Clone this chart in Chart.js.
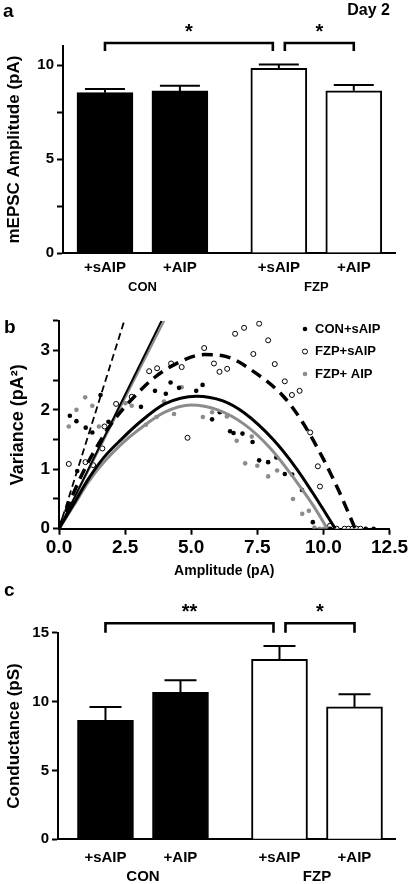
<!DOCTYPE html>
<html>
<head>
<meta charset="utf-8">
<script src="https://cdn.jsdelivr.net/npm/chart.js@4.4.1/dist/chart.umd.min.js"></script>
<style>
  body { margin: 0; background: #fff; }
  #wrap { position: relative; width: 410px; height: 884px; }
  .panel { position: absolute; left: 0; width: 410px; }
</style>
</head>
<body>
<div id="wrap">
  <div class="panel" style="top:0;height:300px"><canvas id="ampChart"></canvas></div>
  <div class="panel" style="top:300px;height:284px"><canvas id="varChart"></canvas></div>
  <div class="panel" style="top:584px;height:300px"><canvas id="condChart"></canvas></div>
</div>
<script>
var FONT = "Arial, 'Liberation Sans', Helvetica, sans-serif";
Chart.defaults.font.family = FONT;
Chart.defaults.color = '#000';

// bars (panels a and c)
var barLabels = ['+sAIP', '+AIP', '+sAIP', '+AIP'];
var barGroup = [0, 0, 1, 1];
var groupNames = ['CON', 'FZP'];
var barFill = ['#000', '#000', '#fff', '#fff'];

var ampMean = [8.53, 8.62, 9.82, 8.63];
var ampSem = [0.19, 0.28, 0.20, 0.31];
var ampTickMarks = [0, 2.5, 5, 7.5, 10];
var ampTickLabels = [0, 5, 10];

var condMean = [8.64, 10.67, 13.07, 9.61];
var condSem = [0.97, 0.88, 0.97, 0.92];
var condTickMarks = [0, 5, 10, 15];
var condTickLabels = [0, 5, 10, 15];

// significance brackets: [from bar, to bar, mark]
var ampSig = [[0, 2, '*'], [2, 3, '*']];
var condSig = [[0, 2, '**'], [2, 3, '*']];

// panel b: variance vs amplitude
var conX = [0.41, 0.66, 0.69, 1.01, 1.26, 1.57, 1.87, 3.10, 3.63, 4.04, 4.22, 4.54, 5.19, 5.43, 5.79, 6.08, 6.47, 6.60, 6.94, 7.32, 7.57, 7.91, 8.22, 8.54, 8.82, 9.19, 9.60, 10.25, 11.6, 11.9];
var conY = [1.90, 1.81, 0.97, 1.70, 1.62, 2.25, 1.80, 2.05, 2.32, 2.27, 2.46, 2.37, 2.32, 2.42, 1.84, 1.96, 1.64, 1.61, 1.60, 1.46, 1.15, 1.12, 1.20, 0.92, 0.91, 0.65, 0.11, 0, 0, 0];

var fzpX = [0.37, 1.00, 1.29, 1.64, 1.72, 2.16, 2.75, 3.41, 3.71, 4.24, 4.64, 4.86, 5.49, 5.86, 6.07, 6.36, 6.66, 7.00, 7.35, 7.57, 7.91, 8.16, 8.54, 8.81, 9.10, 9.50, 9.79, 9.87, 10.25, 10.5, 10.8, 10.95, 11.1, 11.25, 11.4];
var fzpY = [1.09, 1.12, 1.07, 1.35, 1.72, 2.10, 2.22, 2.65, 2.70, 2.78, 2.72, 1.53, 3.04, 2.78, 2.64, 2.69, 3.28, 3.38, 2.94, 3.45, 3.17, 2.77, 2.48, 2.25, 2.32, 1.62, 1.05, 0.71, 0.05, 0, 0, 0, 0, 0, 0];

var aipX = [0.37, 0.66, 0.99, 1.26, 1.51, 2.51, 2.75, 3.29, 3.69, 3.97, 4.35, 4.64, 5.44, 5.79, 6.35, 6.72, 7.04, 7.29, 7.50, 7.91, 8.25, 8.85, 9.20, 9.45, 9.66, 9.85, 10.0];
var aipY = [1.72, 2.00, 2.21, 2.07, 1.72, 2.11, 2.07, 1.75, 1.88, 2.14, 1.93, 2.38, 1.88, 1.96, 1.89, 1.48, 1.10, 1.55, 1.06, 0.88, 0.98, 0.50, 0.25, 0.30, 0.02, 0, 0];

// fitted curves
var conFitX = [0, 0.6, 1.1, 1.7, 2.35, 3.0, 4.0, 5.2, 6.2, 7.0, 8.1, 9.0, 9.6, 10.45];
var conFitY = [0, 0.45, 0.83, 1.20, 1.50, 1.77, 2.10, 2.23, 2.15, 1.95, 1.50, 1.00, 0.60, 0];
var aipFitX = [0, 0.6, 1.1, 1.7, 2.35, 3.0, 4.0, 5.0, 6.0, 7.0, 8.0, 9.0, 9.6, 10.15];
var aipFitY = [0, 0.42, 0.78, 1.12, 1.42, 1.66, 1.96, 2.08, 2.00, 1.76, 1.35, 0.78, 0.40, 0];
var fzpFitX = [0, 0.5, 1.0, 1.5, 2.0, 2.8, 3.6, 4.4, 5.5, 6.3, 7.5, 8.5, 9.2, 10.0, 10.6, 11.2];
var fzpFitY = [0, 0.55, 1.03, 1.43, 1.78, 2.20, 2.54, 2.77, 2.93, 2.90, 2.60, 2.22, 1.80, 1.17, 0.62, 0];
// initial slope lines
var conSlopeX = [0, 3.88], conSlopeY = [0, 3.5];
var aipSlopeX = [0, 3.98], aipSlopeY = [0, 3.5];
var fzpSlopeX = [0, 2.47], fzpSlopeY = [0, 3.5];

var GRAY = '#8c8c8c';
var groupGap = 0.32;

function pts(xs, ys) {
  return xs.map(function (x, i) { return { x: x, y: ys[i] }; });
}

function textPlugin(items) {
  return {
    id: 'panelText',
    afterDraw: function (chart) {
      var ctx = chart.ctx;
      ctx.save();
      ctx.fillStyle = '#000';
      ctx.textBaseline = 'middle';
      items.forEach(function (t) {
        ctx.font = t.font;
        ctx.textAlign = t.align || 'left';
        ctx.fillText(t.text, t.x, t.y);
      });
      ctx.restore();
    }
  };
}

function barPlugin(sems, sig, cfg) {
  return {
    id: 'barExtras',
    afterDatasetsDraw: function (chart) {
      var ctx = chart.ctx, y = chart.scales.y;
      var bars = chart.getDatasetMeta(0).data;
      var ds = chart.data.datasets[0];
      ctx.save();
      ctx.strokeStyle = '#000';
      ctx.fillStyle = '#000';
      // error bars (upper only)
      ctx.lineWidth = 2;
      bars.forEach(function (bar, i) {
        var top = y.getPixelForValue(ds.data[i].y + sems[i]);
        ctx.beginPath();
        ctx.moveTo(bar.x, bar.y);
        ctx.lineTo(bar.x, top);
        ctx.moveTo(bar.x - cfg.cap / 2, top);
        ctx.lineTo(bar.x + cfg.cap / 2, top);
        ctx.stroke();
      });
      // significance brackets
      var used = {};
      sig.forEach(function (s) { used[s[0]] = (used[s[0]] || 0) + 1; used[s[1]] = (used[s[1]] || 0) + 1; });
      var yl = y.getPixelForValue(cfg.sigLevel), yd = y.getPixelForValue(cfg.sigDrop);
      ctx.lineWidth = 2.6;
      sig.forEach(function (s) {
        var x1 = bars[s[0]].x + (used[s[0]] > 1 ? 6 : 0);
        var x2 = bars[s[1]].x - (used[s[1]] > 1 ? 6 : 0);
        ctx.beginPath();
        ctx.moveTo(x1, yd);
        ctx.lineTo(x1, yl);
        ctx.lineTo(x2, yl);
        ctx.lineTo(x2, yd);
        ctx.stroke();
        ctx.font = 'bold 20px ' + FONT;
        ctx.textAlign = 'center';
        ctx.textBaseline = 'alphabetic';
        ctx.fillText(s[2], (x1 + x2) / 2, yl - 5);
      });
      // group names under the category labels
      ctx.font = cfg.groupFont;
      ctx.textAlign = 'center';
      ctx.textBaseline = 'middle';
      groupNames.forEach(function (g, gi) {
        var xs = bars.filter(function (b, i) { return barGroup[i] === gi; }).map(function (b) { return b.x; });
        var cx = xs.reduce(function (a, b) { return a + b; }, 0) / xs.length;
        ctx.fillText(g, cx, cfg.groupY);
      });
      ctx.restore();
    }
  };
}

function barPanel(id, means, sems, sig, cfg) {
  var xPos = barLabels.map(function (l, i) { return i + barGroup[i] * groupGap; });
  return new Chart(id, {
    type: 'bar',
    data: {
      datasets: [{
        data: pts(xPos, means),
        backgroundColor: barFill,
        borderColor: '#000',
        borderWidth: 2,
        barThickness: 56
      }]
    },
    options: {
      responsive: true,
      maintainAspectRatio: false,
      animation: false,
      devicePixelRatio: 1,
      layout: { padding: { top: cfg.top, right: 15, left: 0, bottom: 0 } },
      plugins: { legend: { display: false }, tooltip: { enabled: false } },
      scales: {
        x: {
          type: 'linear',
          min: cfg.xMin,
          max: cfg.xMax,
          offset: false,
          afterBuildTicks: function (s) { s.ticks = xPos.map(function (v) { return { value: v }; }); },
          afterFit: function (s) { s.height = cfg.xHeight; },
          ticks: {
            autoSkip: false, maxRotation: 0, padding: cfg.labelPad, color: '#000',
            font: { size: 15, weight: 'bold' },
            callback: function (v, i) { return barLabels[i]; }
          },
          grid: { display: false, drawTicks: false, offset: false },
          border: { color: '#000', width: 2 }
        },
        y: {
          min: 0,
          max: cfg.yMax,
          afterBuildTicks: function (s) { s.ticks = cfg.tickMarks.map(function (v) { return { value: v }; }); },
          afterFit: function (s) { s.width = cfg.yWidth; },
          ticks: {
            autoSkip: false, padding: 3, color: '#000',
            font: { size: 15, weight: 'bold' },
            callback: function (v) { return cfg.tickLabels.indexOf(v) >= 0 ? String(v) : ''; }
          },
          grid: { drawOnChartArea: false, tickLength: 6, tickWidth: 2, tickColor: '#000' },
          border: { color: '#000', width: 2 },
          title: {
            display: true, text: cfg.yTitle, color: '#000',
            font: { size: 17, weight: 'bold' },
            padding: { top: cfg.titlePad, bottom: 0 }
          }
        }
      }
    },
    plugins: [barPlugin(sems, sig, cfg), textPlugin(cfg.texts)]
  });
}

barPanel('ampChart', ampMean, ampSem, ampSig, {
  top: 46.2, yMax: 11, xMin: -0.56, xMax: 3.87, xHeight: 47, labelPad: 6,
  yWidth: 63, titlePad: 4, cap: 40, sigLevel: 11.17, sigDrop: 10.74,
  tickMarks: ampTickMarks, tickLabels: ampTickLabels,
  yTitle: 'mEPSC Amplitude (pA)',
  groupFont: 'bold 13px ' + FONT, groupY: 287,
  texts: [
    { text: 'a', x: 3, y: 12, font: 'bold 19px ' + FONT },
    { text: 'Day 2', x: 390, y: 11, font: 'bold 16px ' + FONT, align: 'right' }
  ]
});

barPanel('condChart', condMean, condSem, condSig, {
  top: 48.7, yMax: 15, xMin: -0.633, xMax: 3.86, xHeight: 44.7, labelPad: 10,
  yWidth: 58, titlePad: 4, cap: 32, sigLevel: 15.69, sigDrop: 15.0,
  tickMarks: condTickMarks, tickLabels: condTickLabels,
  yTitle: 'Conductance (pS)',
  groupFont: 'bold 15px ' + FONT, groupY: 292.7,
  texts: [
    { text: 'c', x: 4, y: 7, font: 'bold 19px ' + FONT }
  ]
});

// panel b
var legendPlugin = {
  id: 'varLegend',
  afterDraw: function (chart) {
    var ctx = chart.ctx;
    var rows = chart.data.datasets.filter(function (d) { return d.inLegend; });
    ctx.save();
    ctx.font = 'bold 13px ' + FONT;
    ctx.textBaseline = 'middle';
    ctx.textAlign = 'left';
    rows.forEach(function (d, i) {
      var y = 29 + i * 22.5;
      ctx.beginPath();
      ctx.arc(305, y, d.pointRadius, 0, Math.PI * 2);
      ctx.fillStyle = d.pointBackgroundColor;
      ctx.fill();
      if (d.pointBorderWidth) {
        ctx.lineWidth = d.pointBorderWidth;
        ctx.strokeStyle = d.pointBorderColor;
        ctx.stroke();
      }
      ctx.fillStyle = '#000';
      ctx.fillText(d.label, 315, y);
    });
    ctx.restore();
  }
};

function fitLine(xs, ys, color, width, dash) {
  return {
    data: pts(xs, ys), showLine: true, pointRadius: 0, borderColor: color,
    borderWidth: width, borderDash: dash, cubicInterpolationMode: 'monotone'
  };
}

new Chart('varChart', {
  type: 'scatter',
  data: {
    datasets: [
      fitLine(fzpFitX, fzpFitY, '#000', 3.5, [11, 7]),
      fitLine(conFitX, conFitY, '#000', 3, []),
      fitLine(aipFitX, aipFitY, GRAY, 3, []),
      fitLine(conSlopeX, conSlopeY, '#000', 2, []),
      fitLine(aipSlopeX, aipSlopeY, GRAY, 2, []),
      fitLine(fzpSlopeX, fzpSlopeY, '#000', 1.8, [7, 4]),
      { label: 'CON+sAIP', inLegend: true, data: pts(conX, conY), pointRadius: 2.3,
        pointBackgroundColor: '#000', pointBorderWidth: 0, pointBorderColor: '#000' },
      { label: 'FZP+sAIP', inLegend: true, data: pts(fzpX, fzpY), pointRadius: 2.5,
        pointBackgroundColor: '#fff', pointBorderWidth: 1, pointBorderColor: '#000' },
      { label: 'FZP+ AIP', inLegend: true, data: pts(aipX, aipY), pointRadius: 2.3,
        pointBackgroundColor: GRAY, pointBorderWidth: 0, pointBorderColor: GRAY }
    ]
  },
  options: {
    responsive: true,
    maintainAspectRatio: false,
    animation: false,
    devicePixelRatio: 1,
    layout: { padding: { top: 20.7, right: 18, left: 0, bottom: 0 } },
    plugins: { legend: { display: false }, tooltip: { enabled: false } },
    scales: {
      x: {
        type: 'linear', min: 0, max: 12.5,
        afterFit: function (s) { s.height = 55.3; },
        ticks: {
          stepSize: 2.5, autoSkip: false, maxRotation: 0, padding: 2, color: '#000',
          font: { size: 19, weight: 'bold' },
          callback: function (v) { return v.toFixed(1); }
        },
        grid: { drawOnChartArea: false, tickLength: 6, tickWidth: 2, tickColor: '#000' },
        border: { color: '#000', width: 2 },
        title: {
          display: true, text: 'Amplitude (pA)', color: '#000',
          font: { size: 14, weight: 'bold' }, padding: { top: 0, bottom: 4 }
        }
      },
      y: {
        min: 0, max: 3.5,
        afterFit: function (s) { s.width = 59; },
        ticks: {
          stepSize: 0.5, autoSkip: false, padding: 3, color: '#000',
          font: { size: 17, weight: 'bold' },
          callback: function (v) { return Number.isInteger(v) ? String(v) : ''; }
        },
        grid: { drawOnChartArea: false, tickLength: 6, tickWidth: 2, tickColor: '#000' },
        border: { color: '#000', width: 2 },
        title: {
          display: true, text: 'Variance (pA\u00B2)', color: '#000',
          font: { size: 18, weight: 'bold' }, padding: { top: 7, bottom: 0 }
        }
      }
    }
  },
  plugins: [legendPlugin, textPlugin([{ text: 'b', x: 4, y: 28, font: 'bold 19px ' + FONT }])]
});
</script>
</body>
</html>
